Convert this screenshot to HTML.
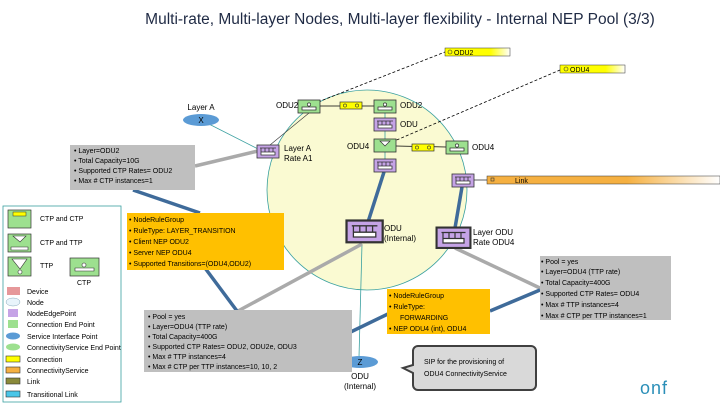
<!DOCTYPE html>
<html><head><meta charset="utf-8"><style>
body{margin:0;width:720px;height:405px;overflow:hidden;background:#fff;font-family:"Liberation Sans",sans-serif}
svg{position:absolute;left:0;top:0}
.t{font-family:"Liberation Sans",sans-serif;font-size:8px;fill:#000}
.s{font-size:7px}
</style></head><body>
<svg width="720" height="405" viewBox="0 0 720 405">
<defs>
<linearGradient id="yg" x1="0" x2="1"><stop offset="0.7" stop-color="#ffff00"/><stop offset="1" stop-color="#ffff00" stop-opacity="0"/></linearGradient>
<linearGradient id="og" x1="0" x2="1"><stop offset="0.6" stop-color="#f5b041"/><stop offset="1" stop-color="#f5b041" stop-opacity="0"/></linearGradient>
<g id="nep"><rect x="0" y="0" width="22" height="13" fill="#c5a3e6" stroke="#333" stroke-width="0.8"/><path d="M4 3v4M8 3v4M12 3v4M16 3v4M3 3h16M4 7h14v3H4z" stroke="#333" fill="#fff" stroke-width="0.8"/></g>
<g id="ctp"><rect x="0" y="0" width="22" height="13" fill="#9de08f" stroke="#333" stroke-width="0.8"/><path d="M4 7h14v3H4z M11 7v-2" stroke="#333" fill="#fff" stroke-width="0.8"/><circle cx="11" cy="4.5" r="1.6" fill="#fff" stroke="#333" stroke-width="0.7"/></g>
</defs>
<text x="400" y="24" text-anchor="middle" style="font-size:15.5px;fill:#1f2a44;font-family:'Liberation Sans',sans-serif">Multi-rate, Multi-layer Nodes, Multi-layer flexibility - Internal NEP Pool (3/3)</text>

<ellipse cx="367" cy="190" rx="100" ry="100" fill="#fafad2" stroke="#3aa0a0" stroke-width="0.8"/>

<rect x="445" y="48" width="65" height="8" fill="url(#yg)" stroke="#333" stroke-width="0.5"/>
<circle cx="450" cy="52" r="2" fill="none" stroke="#333" stroke-width="0.6"/><text x="454" y="55" class="t s">ODU2</text>
<rect x="560" y="65" width="65" height="8" fill="url(#yg)" stroke="#333" stroke-width="0.5"/>
<circle cx="566" cy="69" r="2" fill="none" stroke="#333" stroke-width="0.6"/><text x="570" y="72" class="t s">ODU4</text>
<rect x="487" y="176" width="233" height="8" fill="url(#og)" stroke="#333" stroke-width="0.5"/>
<rect x="491" y="178" width="3" height="3" fill="none" stroke="#333" stroke-width="0.6"/><text x="515" y="183" class="t s">Link</text>

<line x1="318" y1="102" x2="445" y2="52" stroke="#000" stroke-dasharray="3,2" stroke-width="0.8"/>
<line x1="392" y1="142" x2="560" y2="70" stroke="#000" stroke-dasharray="3,2" stroke-width="0.8"/>

<line x1="201" y1="120" x2="260" y2="150" stroke="#3aa0a0" stroke-width="0.8"/>
<line x1="270" y1="145" x2="309" y2="113" stroke="#333" stroke-width="0.6"/>
<line x1="320" y1="106" x2="374" y2="106" stroke="#000" stroke-width="0.8"/>
<line x1="396" y1="146" x2="446" y2="147" stroke="#000" stroke-width="0.8"/>
<line x1="385" y1="113" x2="385" y2="159" stroke="#3aa0a0" stroke-width="0.8"/>
<line x1="473" y1="180" x2="487" y2="180" stroke="#333" stroke-width="0.8"/>
<line x1="362" y1="244" x2="359" y2="357" stroke="#3aa0a0" stroke-width="0.8"/>

<g stroke="#aaa" stroke-width="3.5">
<line x1="195" y1="166" x2="258" y2="151"/>
<line x1="362" y1="244" x2="238" y2="311"/>
<line x1="455" y1="248" x2="542" y2="289"/>
</g>
<g stroke="#3f6b9a" stroke-width="3.5" fill="none">
<polyline points="133,190 200,213"/>
<polyline points="205,268 237,311"/>
<line x1="384" y1="172" x2="368" y2="222"/>
<line x1="462" y1="187" x2="455" y2="228"/>
<line x1="330" y1="342" x2="390" y2="313"/>
<line x1="490" y1="311" x2="540" y2="290"/>
</g>

<use href="#ctp" x="298" y="100"/>
<rect x="340" y="102" width="22" height="7" fill="#ffff00" stroke="#333" stroke-width="0.7"/>
<circle cx="345" cy="105.5" r="1.6" fill="none" stroke="#333" stroke-width="0.6"/><circle cx="357" cy="105.5" r="1.6" fill="none" stroke="#333" stroke-width="0.6"/>
<use href="#ctp" x="374" y="100"/>
<use href="#nep" x="374" y="118"/>
<g><rect x="374" y="139" width="22" height="13" fill="#9de08f" stroke="#333" stroke-width="0.8"/><path d="M380 141h10l-5 5z" fill="#fff" stroke="#333" stroke-width="0.7"/></g>
<rect x="412" y="144" width="22" height="7" fill="#ffff00" stroke="#333" stroke-width="0.7"/>
<circle cx="417" cy="147.5" r="1.6" fill="none" stroke="#333" stroke-width="0.6"/><circle cx="429" cy="147.5" r="1.6" fill="none" stroke="#333" stroke-width="0.6"/>
<use href="#ctp" x="446" y="141"/>
<use href="#nep" x="374" y="159"/>
<use href="#nep" x="452" y="174"/>
<use href="#nep" x="257" y="145"/>
<g transform="translate(347,221) scale(1.6)"><rect x="-1" y="-1" width="24" height="15" fill="#333"/><use href="#nep"/></g>
<g transform="translate(437,228) scale(1.5)"><rect x="-1" y="-1" width="24" height="15" fill="#333"/><use href="#nep"/></g>

<ellipse cx="201" cy="120" rx="18" ry="6" fill="#5b9bd5"/><text x="201" y="123" text-anchor="middle" class="t">X</text>
<text x="201" y="110" text-anchor="middle" class="t">Layer A</text>
<ellipse cx="360" cy="362" rx="18" ry="6" fill="#5b9bd5"/><text x="360" y="365" text-anchor="middle" class="t">Z</text>
<text x="360" y="379" text-anchor="middle" class="t">ODU</text><text x="360" y="389" text-anchor="middle" class="t">(Internal)</text>

<text x="276" y="108" class="t">ODU2</text>
<text x="400" y="108" class="t">ODU2</text>
<text x="400" y="127" class="t">ODU</text>
<text x="347" y="149" class="t">ODU4</text>
<text x="472" y="150" class="t">ODU4</text>
<text x="284" y="151" class="t">Layer A</text><text x="284" y="161" class="t">Rate A1</text>
<text x="384" y="231" class="t">ODU</text><text x="384" y="241" class="t">(Internal)</text>
<text x="473" y="235" class="t">Layer ODU</text><text x="473" y="245" class="t">Rate ODU4</text>

<rect x="70" y="145" width="125" height="45" fill="#bfbfbf"/>
<text x="74" y="153" class="t s">•   Layer=ODU2</text><text x="74" y="163" class="t s">•   Total Capacity=10G</text><text x="74" y="173" class="t s">•   Supported CTP Rates= ODU2</text><text x="74" y="183" class="t s">•   Max # CTP instances=1</text>
<rect x="144" y="310" width="208" height="62" fill="#bfbfbf"/>
<text x="148" y="319" class="t s">•   Pool = yes</text><text x="148" y="329" class="t s">•   Layer=ODU4 (TTP rate)</text><text x="148" y="339" class="t s">•   Total Capacity=400G</text><text x="148" y="349" class="t s">•   Supported CTP Rates= ODU2, ODU2e, ODU3</text>
<text x="148" y="359" class="t s">•   Max # TTP instances=4</text>
<text x="148" y="369" class="t s">•   Max # CTP per TTP instances=10, 10, 2</text>
<rect x="540" y="256" width="131" height="64" fill="#bfbfbf"/>
<text x="541" y="264" class="t s">•   Pool = yes</text><text x="541" y="274" class="t s">•   Layer=ODU4 (TTP rate)</text><text x="541" y="285" class="t s">•   Total Capacity=400G</text><text x="541" y="296" class="t s">•   Supported CTP Rates= ODU4</text><text x="541" y="307" class="t s">•   Max # TTP instances=4</text><text x="541" y="318" class="t s">•   Max # CTP per TTP instances=1</text>

<rect x="127" y="213" width="157" height="57" fill="#ffc000"/>
<text x="129" y="222" class="t s">•   NodeRuleGroup</text><text x="129" y="233" class="t s">•   RuleType: LAYER_TRANSITION</text><text x="129" y="244" class="t s">•   Client NEP ODU2</text><text x="129" y="255" class="t s">•   Server NEP ODU4</text><text x="129" y="266" class="t s">•   Supported Transitions=(ODU4,ODU2)</text>
<rect x="387" y="289" width="103" height="45" fill="#ffc000"/>
<text x="389" y="298" class="t s">•   NodeRuleGroup</text><text x="389" y="309" class="t s">•   RuleType:</text><text x="400" y="320" class="t s">FORWARDING</text><text x="389" y="331" class="t s">•   NEP ODU4 (int), ODU4</text>

<path d="M418 346h113a5 5 0 0 1 5 5v34a5 5 0 0 1-5 5H418a5 5 0 0 1-5-5v-12l-10-5 10-3v-14a5 5 0 0 1 5-5z" fill="#d9d9d9" stroke="#404040" stroke-width="2"/>
<text x="424" y="364" class="t s">SIP for the provisioning of</text><text x="424" y="376" class="t s">ODU4 ConnectivityService</text>

<text x="640" y="394" style="font-size:18px;fill:#2b8fb8;font-family:'Liberation Sans',sans-serif;letter-spacing:1px">onf</text>

<rect x="3" y="206" width="118" height="196" fill="#fff" stroke="#3aa0a0" stroke-width="0.8"/>
<rect x="8" y="210" width="23" height="18" fill="#9de08f" stroke="#333" stroke-width="0.7"/>
<rect x="13" y="212" width="13" height="4" fill="#ffff00" stroke="#333" stroke-width="0.5"/>
<text x="40" y="221" class="t s">CTP and CTP</text>
<rect x="8" y="234" width="23" height="18" fill="#9de08f" stroke="#333" stroke-width="0.7"/>
<path d="M13 236h13l-6 6zM11 247h17v3H11z" fill="#fff" stroke="#333" stroke-width="0.6"/>
<text x="40" y="245" class="t s">CTP and TTP</text>
<rect x="8" y="257" width="23" height="19" fill="#9de08f" stroke="#333" stroke-width="0.7"/>
<path d="M12 259h15l-7 10z" fill="#fff" stroke="#333" stroke-width="0.6"/><circle cx="20" cy="272" r="2" fill="#fff" stroke="#333" stroke-width="0.6"/>
<text x="40" y="268" class="t s">TTP</text>
<rect x="70" y="258" width="29" height="18" fill="#9de08f" stroke="#333" stroke-width="0.7"/>
<path d="M75 268h19v3H75z" fill="#fff" stroke="#333" stroke-width="0.6"/><circle cx="84" cy="265" r="2" fill="#fff" stroke="#333" stroke-width="0.6"/>
<text x="77" y="285" class="t s">CTP</text>
<rect x="7" y="287" width="13" height="8" fill="#e6989a"/><text x="27" y="294" class="t s">Device</text>
<ellipse cx="13" cy="302" rx="7" ry="4" fill="#e8f4fb" stroke="#8ab" stroke-width="0.5"/><text x="27" y="305" class="t s">Node</text>
<rect x="8" y="309" width="10" height="8" fill="#c5a3e6"/><text x="27" y="316" class="t s">NodeEdgePoint</text>
<rect x="8" y="320" width="10" height="8" fill="#9de08f"/><text x="27" y="327" class="t s">Connection End Point</text>
<ellipse cx="13" cy="336" rx="7" ry="3.5" fill="#5b9bd5"/><text x="27" y="339" class="t s">Service Interface Point</text>
<ellipse cx="13" cy="347" rx="7" ry="3.5" fill="#9de08f"/><text x="27" y="350" class="t s">ConnectivityService End Point</text>
<rect x="6" y="356" width="14" height="6" fill="#ffff00" stroke="#333" stroke-width="0.6"/><text x="27" y="362" class="t s">Connection</text>
<rect x="6" y="367" width="14" height="6" fill="#f5b041" stroke="#333" stroke-width="0.6"/><text x="27" y="373" class="t s">ConnectivityService</text>
<rect x="6" y="378" width="14" height="6" fill="#8a8a3a" stroke="#333" stroke-width="0.6"/><text x="27" y="384" class="t s">Link</text>
<rect x="6" y="391" width="14" height="6" fill="#4ac6e8" stroke="#333" stroke-width="0.6"/><text x="27" y="397" class="t s">Transitional Link</text>
</svg>
</body></html>
